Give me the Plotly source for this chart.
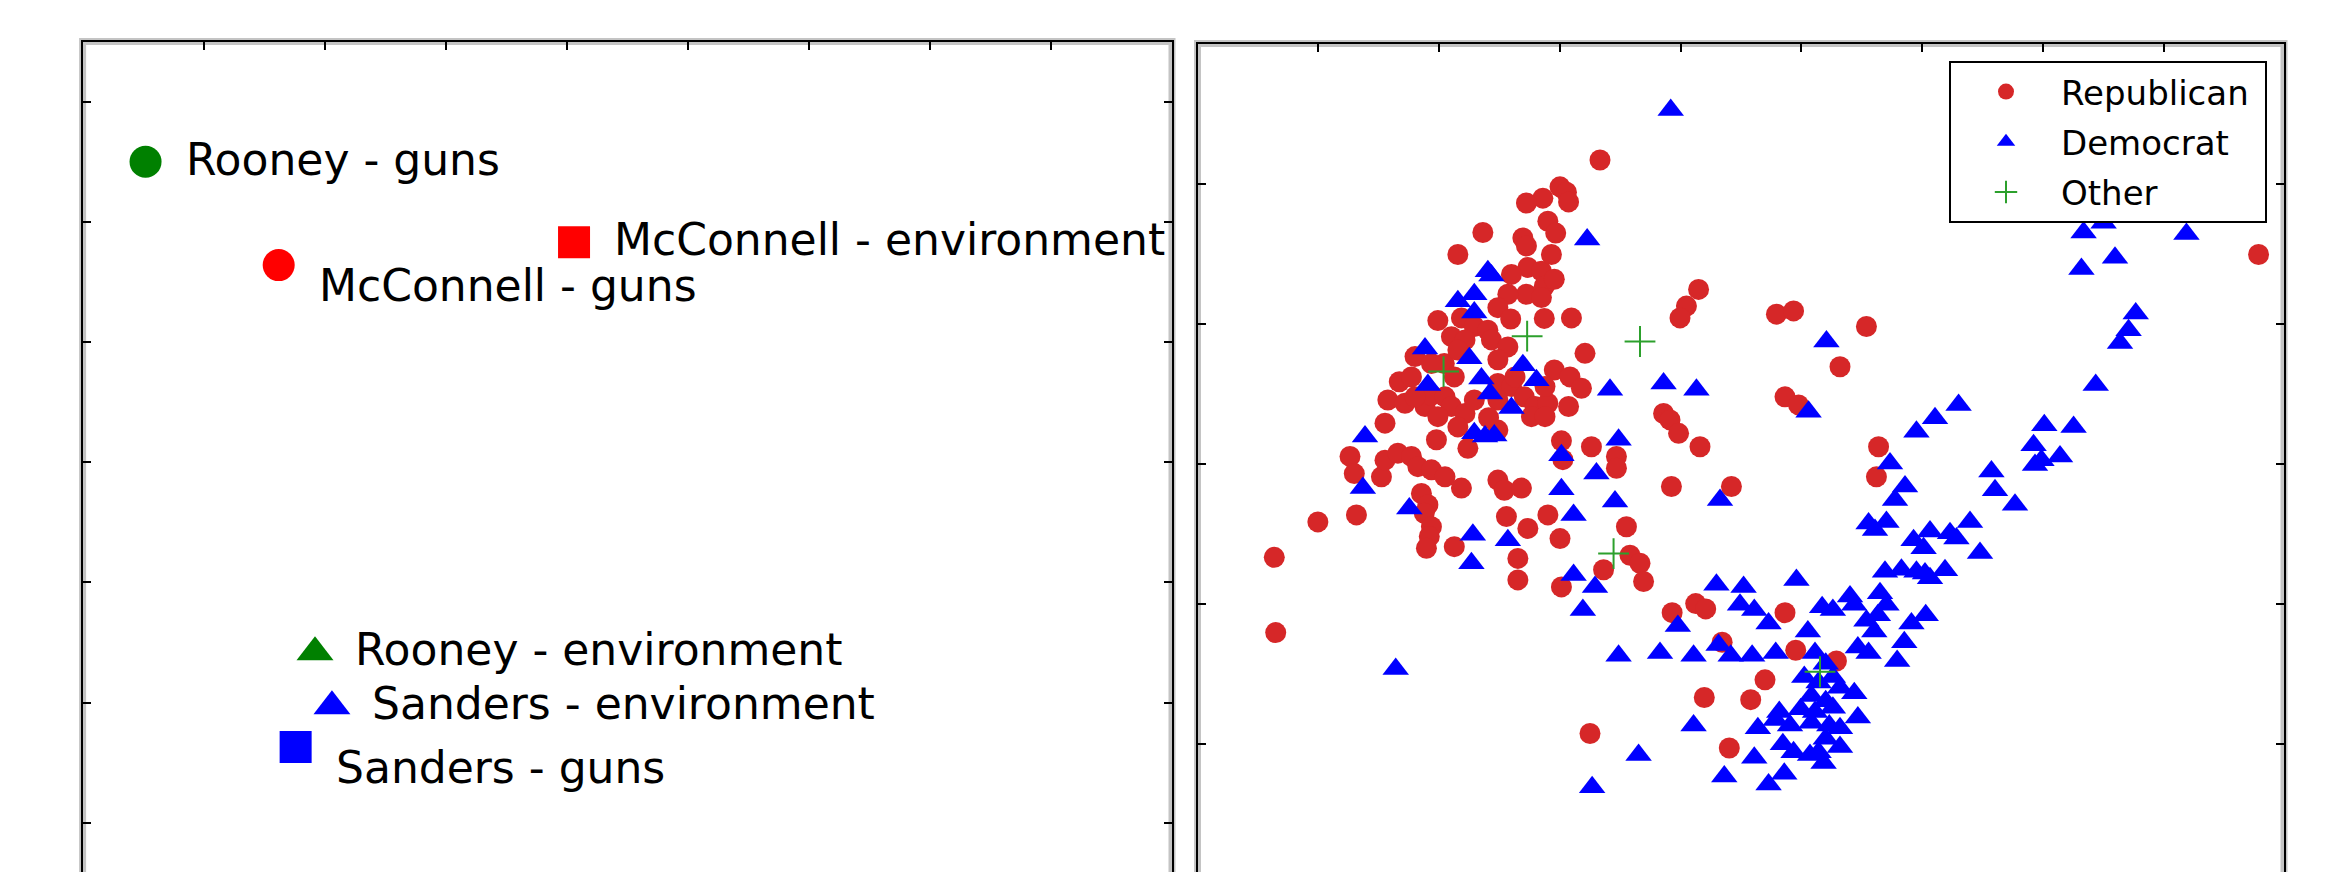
import plotly.graph_objects as go

# ---------------- Left panel: speaker / topic points ----------------
left_labels = ["Rooney - guns", "McConnell - guns", "McConnell - environment",
               "Rooney - environment", "Sanders - environment", "Sanders - guns"]
left_x = [0.52, 1.62, 4.06, 1.92, 2.06, 1.76]
left_y = [6.50, 5.64, 5.83, 2.42, 1.97, 1.63]
left_label_dx = [0.315, 0.315, 0.315, 0.315, 0.315, 0.315]
left_label_dy = [0.02, -0.17, 0.02, 0.02, 0.02, -0.17]
left_colors = ["#008000", "#ff0000", "#ff0000", "#008000", "#0000ff", "#0000ff"]
left_symbols = ["circle", "circle", "square", "triangle-up", "triangle-up", "square"]
left_sizes = [32, 32, 32, 32, 32, 32]

# ---------------- Right panel: party scatter ----------------
rep_x = [5.74, 5.18, 5.27, 5.30, 4.94, 4.71, 5.01, 5.12, 4.10, 3.75, 4.66, 4.71, 4.73, 4.92,
         4.96, 4.71, 4.92, 4.45, 4.31, 3.80, 5.10, 5.34, 7.12, 6.95, 6.86, 8.21, 8.45, 9.47,
         3.47, 4.49, 4.96, 3.98, 4.17, 3.15, 3.66, 3.85, 4.22, 4.45, 2.93, 2.77, 3.01, 3.29,
         3.38, 3.57, 3.66, 3.85, 3.75, 4.31, 4.50, 4.68, 4.83, 5.01, 4.78, 4.97, 5.10, 2.73,
         3.45, 3.89, 4.31, 2.24, 2.30, 2.68, 2.73, 2.91, 3.10, 3.19, 3.38, 3.57, 3.80, 3.24,
         3.33, 3.28, 4.31, 4.40, 4.64, 2.33, 1.79, 1.18, 4.43, 4.73, 5.01, 5.18, 3.38, 3.35,
         3.31, 3.70, 4.59, 4.59, 5.20, 5.20, 3.56, 3.70, 3.75, 3.98, 3.47, 3.15, 4.31, 4.55,
         5.53, 5.32, 5.48, 5.30, 6.63, 6.72, 6.84, 7.14, 8.33, 8.52, 9.10, 5.62, 5.97, 5.97,
         5.22, 6.74, 7.58, 9.64, 9.61, 6.11, 6.16, 6.30, 6.35, 5.79, 6.75, 7.08, 7.22, 8.33,
         7.45, 8.48, 9.05, 8.05, 7.20, 7.85, 5.60, 7.55, 1.20, 14.96,
         3.10, 3.38, 4.31, 4.97, 4.50, 5.06, 4.18]
rep_y = [13.26, 12.76, 12.66, 12.48, 12.55, 12.46, 12.12, 11.90, 11.91, 11.50, 11.81, 11.66,
         11.26, 11.19, 10.91, 10.76, 10.70, 10.76, 10.51, 10.32, 11.04, 10.32, 10.85, 10.54,
         10.32, 10.39, 10.45, 10.16, 10.27, 10.30, 10.31, 10.16, 10.09, 9.60, 9.97, 9.91,
         9.91, 9.78, 9.13, 8.79, 8.73, 8.67, 8.88, 8.85, 8.67, 8.54, 8.29, 9.10, 9.04, 8.85,
         8.67, 8.73, 8.48, 8.48, 9.35, 8.36, 8.05, 7.89, 8.23, 7.74, 7.42, 7.36, 7.67, 7.80,
         7.74, 7.55, 7.49, 7.36, 7.15, 7.05, 6.84, 6.68, 7.30, 7.11, 7.15, 6.65, 6.52, 5.86,
         6.62, 6.40, 6.65, 6.21, 6.43, 6.25, 6.03, 6.06, 5.84, 5.44, 8.03, 5.31, 9.47, 9.22,
         9.72, 8.79, 8.48, 8.85, 8.79, 9.22, 9.66, 9.22, 9.01, 8.67, 8.54, 8.42, 8.17, 7.92,
         8.85, 8.70, 9.41, 7.92, 7.74, 7.52, 7.68, 7.18, 7.18, 7.92, 7.36, 6.43, 5.90, 5.75,
         5.41, 5.63, 4.83, 5.00, 4.90, 4.83, 4.28, 4.13, 3.93, 3.58, 3.25, 3.21, 2.58, 2.31,
         4.46, 11.50,
         9.22, 9.47, 9.54, 9.04, 11.13, 11.50, 8.46]

dem_x = [6.73, 5.56, 4.17, 4.22, 3.75, 3.98, 3.98, 12.51, 12.79, 13.95, 12.95, 12.48, 13.24,
         13.14, 13.02, 3.29, 3.33, 3.91, 4.08, 4.20, 4.66, 4.85, 4.50, 3.98, 4.13, 4.26, 2.45,
         2.42, 3.07, 3.96, 4.45, 3.94, 5.20, 5.20, 8.91, 5.88, 6.63, 7.09, 8.66, 6.00, 5.69,
         5.95, 5.37, 7.42, 10.17, 9.80, 10.01, 9.87, 9.50, 9.59, 9.75, 10.13, 9.73, 9.96,
         10.17, 5.37, 5.67, 7.37, 7.75, 8.49, 9.24, 9.66, 12.68, 10.76, 10.43, 11.96, 12.37,
         11.81, 11.83, 11.92, 12.18, 11.22, 11.27, 11.55, 10.92, 10.36, 10.64, 10.73, 10.27,
         11.06, 10.57, 10.29, 10.36, 2.88, 5.50, 6.00, 6.58, 7.05, 6.83, 7.70, 7.90, 8.10,
         7.87, 8.20, 7.57, 7.40, 8.65, 8.85, 9.00, 9.30, 9.47, 9.63, 9.75, 9.58, 9.35, 9.50,
         9.90, 10.00, 10.10, 10.30, 8.75, 8.90, 8.60, 8.80, 9.00, 9.10, 8.70, 8.90, 9.30,
         8.55, 8.75, 9.00, 8.25, 8.20, 8.40, 8.70, 8.95, 9.10, 9.35, 7.95, 8.30, 8.45, 8.80,
         8.90, 9.10, 8.68, 8.87, 7.05, 6.28, 5.63, 7.48, 7.90, 8.10, 8.32]
dem_y = [14.19, 11.78, 11.19, 11.11, 10.63, 10.76, 10.42, 11.91, 12.09, 11.88, 11.44, 11.23,
         10.40, 10.09, 9.85, 9.75, 9.07, 9.57, 9.19, 8.91, 9.44, 9.16, 8.64, 8.17, 8.11, 8.13,
         8.11, 7.15, 6.77, 6.28, 6.18, 5.75, 7.76, 7.13, 9.88, 8.98, 9.10, 8.98, 8.57, 8.05,
         7.42, 6.90, 6.65, 6.93, 8.20, 7.61, 7.18, 6.93, 6.49, 6.37, 6.52, 6.18, 5.59, 5.63,
         5.59, 5.53, 5.31, 5.35, 5.31, 5.44, 5.13, 5.19, 9.07, 8.70, 8.45, 8.32, 8.29, 7.95,
         7.58, 7.67, 7.74, 7.46, 7.11, 6.84, 6.52, 6.34, 6.31, 6.21, 6.03, 5.94, 5.62, 5.56,
         5.47, 3.78, 4.88, 4.03, 4.08, 4.03, 4.58, 4.98, 4.88, 4.63, 4.03, 4.08, 4.03, 4.23,
         4.48, 4.93, 4.88, 4.98, 4.68, 4.78, 4.98, 4.48, 4.18, 4.08, 3.93, 4.28, 4.63, 4.78,
         4.08, 3.88, 3.63, 3.53, 3.63, 3.43, 3.28, 3.18, 3.33, 3.03, 2.98, 3.06, 2.98, 2.83,
         2.73, 2.78, 2.73, 2.68, 2.88, 2.68, 2.38, 2.23, 2.23, 2.48, 2.33, 2.18, 2.03, 2.73,
         2.18, 1.58, 1.78, 2.13, 1.63, 1.83]

oth_x = [3.55, 4.72, 6.30, 5.93, 8.82]
oth_y = [9.32, 9.98, 9.88, 5.93, 3.73]

legend_names = ["Republican", "Democrat", "Other"]

# The page body has an 8px margin; the figure is sized so the panels land where the
# reference has them and their (cropped) bottom edge runs just past the window.
W, H = 2317, 873
FONT = "DejaVu Sans"
NBSP = "\u00a0"

fig = go.Figure()

for i in range(len(left_labels)):
    fig.add_trace(go.Scatter(
        x=[left_x[i]], y=[left_y[i]], mode="markers",
        marker=dict(symbol=left_symbols[i], color=left_colors[i], size=left_sizes[i],
                    line=dict(width=0)),
        xaxis="x", yaxis="y", showlegend=False, hoverinfo="skip"))
    fig.add_annotation(
        x=left_x[i] + left_label_dx[i], y=left_y[i] + left_label_dy[i],
        xref="x", yref="y", text=left_labels[i], showarrow=False,
        xanchor="left", yanchor="middle",
        font=dict(family=FONT, size=44, color="black"))

fig.add_trace(go.Scatter(
    x=rep_x, y=rep_y, mode="markers", name=legend_names[0] + NBSP, legendgroup="r",
    marker=dict(symbol="circle", color="#d62728", size=21, line=dict(width=0)),
    xaxis="x2", yaxis="y2"))
fig.add_trace(go.Scatter(
    x=dem_x, y=dem_y, mode="markers", name=legend_names[1] + NBSP, legendgroup="d",
    marker=dict(symbol="triangle-up", color="#0000ff", size=23, line=dict(width=0)),
    xaxis="x2", yaxis="y2"))
fig.add_trace(go.Scatter(
    x=oth_x, y=oth_y, mode="markers", name=legend_names[2] + NBSP, legendgroup="o",
    marker=dict(symbol="cross-thin", color="#2ca02c", size=22,
                line=dict(width=2, color="#2ca02c")),
    xaxis="x2", yaxis="y2"))

axis_common = dict(showgrid=False, zeroline=False, showticklabels=False,
                   ticks="inside", ticklen=8, tickwidth=1.5, tickcolor="black",
                   showline=True, linecolor="black", linewidth=2, fixedrange=True)

L0, L1, LT = 74.6, 1164.0, 33.5
R0, R1, RT = 1189.5, 2276.0, 35.5

fig.update_layout(
    width=W, height=H, autosize=False,
    margin=dict(l=0, r=0, t=0, b=0),
    paper_bgcolor="white", plot_bgcolor="white",
    font=dict(family=FONT, color="black"),
    xaxis=dict(domain=[L0 / W, L1 / W], range=[0, 9], tick0=0, dtick=1,
               side="top", anchor="y", **axis_common),
    yaxis=dict(domain=[0, 1 - LT / H], range=[0.516, 7.5], tick0=0, dtick=1,
               mirror="ticks", anchor="x", **axis_common),
    xaxis2=dict(domain=[R0 / W, R1 / W], range=[0.105, 15.316], tick0=0.105, dtick=1.691,
                side="top", anchor="y2", **axis_common),
    yaxis2=dict(domain=[0, 1 - RT / H], range=[-0.167, 15.43], tick0=2.384, dtick=2.607,
                mirror="ticks", anchor="x2", **axis_common),
    legend=dict(x=2259 / W, xanchor="right", y=1 - 53 / H, yanchor="top",
                bgcolor="white", bordercolor="black", borderwidth=2,
                font=dict(family=FONT, size=34, color="black"),
                itemwidth=100, tracegroupgap=3),
    showlegend=True,
)

# soft grey halo around each panel frame (as in the reference)
def frame_path(x0, x1, yt):
    return "M {a},0 L {a},{t} L {b},{t} L {b},0".format(a=x0 / W, b=x1 / W, t=1 - yt / H)

for x0, x1, yt in [(L0, L1, LT), (R0, R1, RT)]:
    fig.add_shape(type="path", xref="paper", yref="paper", path=frame_path(x0, x1, yt),
                  line=dict(color="#c4c4c4", width=7), layer="below")

fig.write_html("out.html")
